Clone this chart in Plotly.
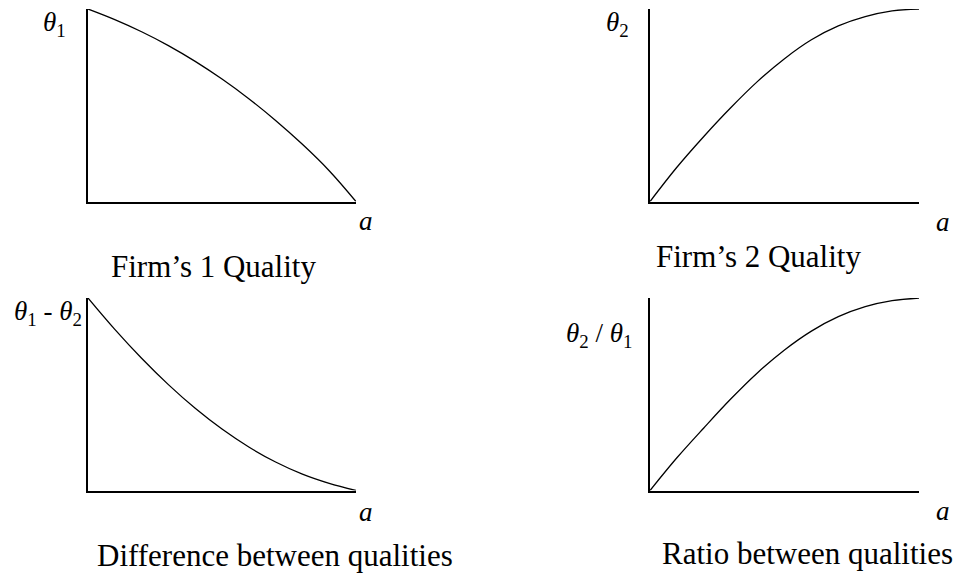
import plotly.graph_objects as go

# Shared horizontal variable a (normalised 0..1)
a_values = [0, 0.1, 0.2, 0.3, 0.4, 0.5, 0.6, 0.7, 0.8, 0.9, 1.0]

# Values (normalised to the panel height)
theta1 = [1.0, 0.945, 0.882, 0.81, 0.728, 0.636, 0.534, 0.421, 0.297, 0.16, 0.0]
theta2 = [0.0, 0.178, 0.338, 0.487, 0.624, 0.742, 0.84, 0.912, 0.96, 0.99, 1.0]
difference = [1.0, 0.837, 0.687, 0.55, 0.427, 0.319, 0.226, 0.148, 0.085, 0.037, 0.0]
ratio = [0.0, 0.17, 0.325, 0.475, 0.612, 0.73, 0.828, 0.903, 0.955, 0.986, 1.0]

panel_titles = ["Firm’s 1 Quality", "Firm’s 2 Quality",
                "Difference between qualities", "Ratio between qualities"]
y_labels = ["<i>θ</i><sub>1</sub>", "<i>θ</i><sub>2</sub>",
            "<i>θ</i><sub>1</sub> - <i>θ</i><sub>2</sub>",
            "<i>θ</i><sub>2</sub> / <i>θ</i><sub>1</sub>"]
x_label = "<i>a</i>"

W, H = 963, 579
FONT = "Liberation Serif"


def px(x):
    return x / W


def py(y):
    return 1 - y / H


# pixel boxes of each panel: (left, right, top, bottom)
boxes = [(88, 356, 9, 201.5), (650, 919, 9, 201.5),
         (88, 356, 298, 490.5), (650, 919, 298, 490.5)]
title_pos = [(213, 266), (758, 257), (275, 555), (807, 553)]
ylab_pos = [(54, 24, "center"), (617, 24, "center"),
            (84, 313, "right"), (634, 335, "right")]
xlab_pos = [(366, 221), (943, 222), (366, 512), (943, 511)]

series = [theta1, theta2, difference, ratio]

fig = go.Figure()
annotations = []
for i, (vals, box) in enumerate(zip(series, boxes)):
    n = "" if i == 0 else str(i + 1)
    left, right, top, bottom = box
    fig.add_trace(go.Scatter(
        x=a_values, y=vals, mode="lines", line_shape="spline",
        line=dict(color="black", width=1.3),
        xaxis="x" + n, yaxis="y" + n, showlegend=False, hoverinfo="skip",
    ))
    axis_style = dict(showline=True, linecolor="black", linewidth=1.6,
                      showgrid=False, zeroline=False, showticklabels=False,
                      ticks="", range=[0, 1], fixedrange=True)
    fig.update_layout(**{
        "xaxis" + n: dict(axis_style, domain=[px(left), px(right)], anchor="y" + n),
        "yaxis" + n: dict(axis_style, domain=[py(bottom), py(top)], anchor="x" + n),
    })

    tx, ty = title_pos[i]
    annotations.append(dict(text=panel_titles[i], x=px(tx), y=py(ty),
                            xanchor="center", yanchor="middle",
                            font=dict(size=31, family=FONT, color="black")))
    lx, ly, anc = ylab_pos[i]
    annotations.append(dict(text=y_labels[i], x=px(lx), y=py(ly),
                            xanchor=anc, yanchor="middle",
                            font=dict(size=27, family=FONT, color="black")))
    ax_, ay_ = xlab_pos[i]
    annotations.append(dict(text=x_label, x=px(ax_), y=py(ay_),
                            xanchor="center", yanchor="middle",
                            font=dict(size=27, family=FONT, color="black")))

for ann in annotations:
    ann.update(xref="paper", yref="paper", showarrow=False)

fig.update_layout(
    width=W, height=H,
    margin=dict(l=0, r=0, t=0, b=0),
    paper_bgcolor="white", plot_bgcolor="white",
    annotations=annotations,
)

# drop the default 8px body margin so the figure sits flush in the window
fig.write_html("out.html", config={"displayModeBar": False},
               post_script="document.body.style.margin = '0';")
